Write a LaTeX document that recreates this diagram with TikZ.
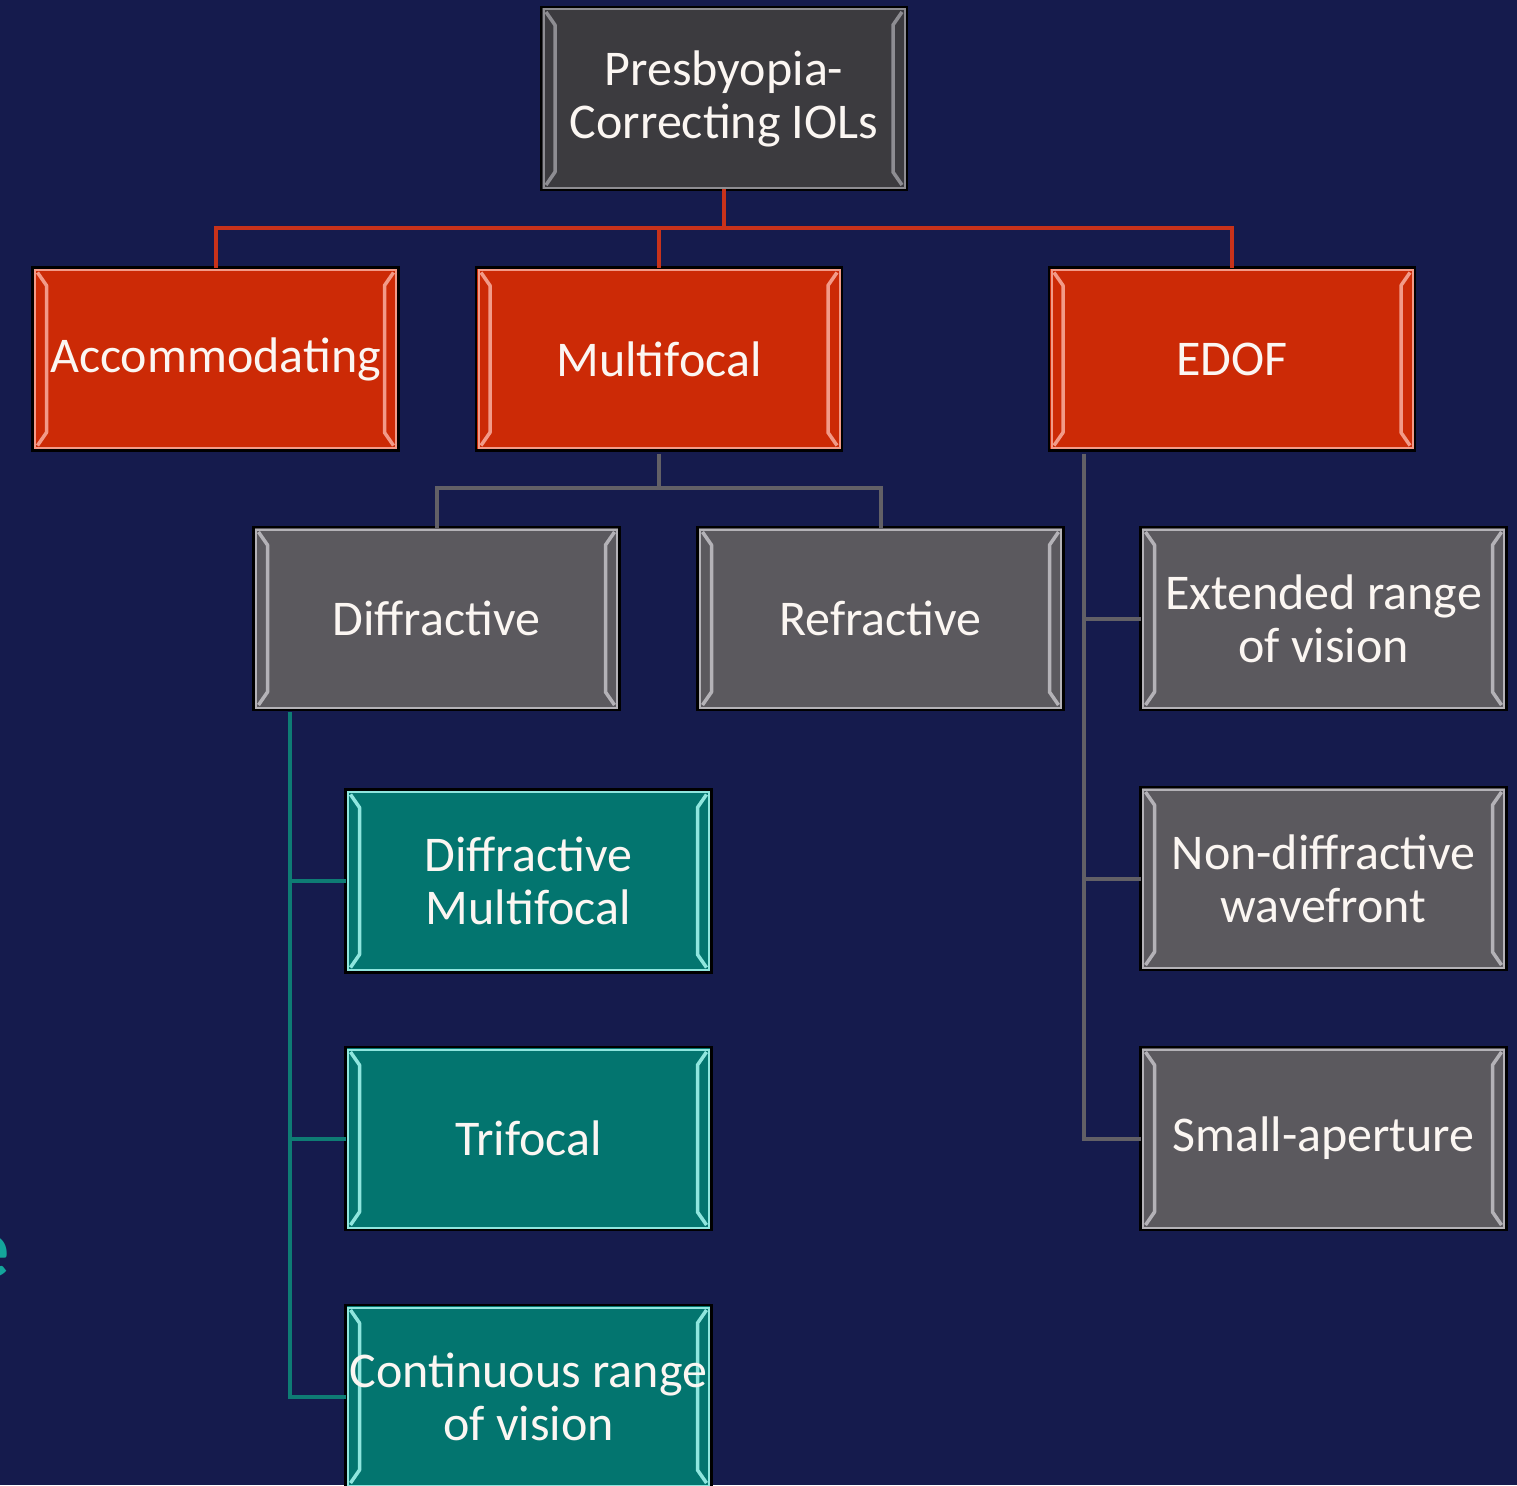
\documentclass[tikz,border=0pt]{standalone}
\usepackage{fontspec}
\setmainfont{Carlito}
\usetikzlibrary{calc}
\definecolor{bg}{HTML}{151B4D}
\definecolor{redf}{HTML}{CC2A06}
\definecolor{redb}{HTML}{F29A88}
\definecolor{redl}{HTML}{C8321A}
\definecolor{darkf}{HTML}{3C3B3F}
\definecolor{darkb}{HTML}{8E8D92}
\definecolor{grayf}{HTML}{5B595E}
\definecolor{grayb}{HTML}{B4B2B7}
\definecolor{grayl}{HTML}{626066}
\definecolor{tealf}{HTML}{03756F}
\definecolor{tealb}{HTML}{8FE6DE}
\definecolor{teall}{HTML}{0E7C74}
\definecolor{tealtxt}{HTML}{14A59B}
\definecolor{txt}{HTML}{FBF6F2}
\begin{document}
\begin{tikzpicture}[x=1pt,y=-1pt,
  box/.style 2 args={draw=black, line width=2.5pt, fill=#1,
    minimum width=366pt, minimum height=183pt, inner sep=0pt,
    align=center, text=txt, font=\fontsize{50}{53}\selectfont,
    path picture={
      \coordinate (pnw) at (path picture bounding box.north west);
      \coordinate (pse) at (path picture bounding box.south east);
      \coordinate (pne) at (path picture bounding box.north east);
      \coordinate (psw) at (path picture bounding box.south west);
      \draw[#2, line width=2pt] ($(pnw)+(2.5,2.5)$) rectangle ($(pse)+(-2.5,-2.5)$);
      \draw[#2, line width=3.5pt, line join=round]
        ($(pnw)+(5,5)$) -- ($(pnw)+(14,18)$) -- ($(psw)+(14,-18)$) -- ($(psw)+(5,-5)$);
      \draw[#2, line width=3.5pt, line join=round]
        ($(pne)+(-5,5)$) -- ($(pne)+(-14,18)$) -- ($(pse)+(-14,-18)$) -- ($(pse)+(-5,-5)$);
    }},
  redbox/.style={box={redf}{redb}},
  darkbox/.style={box={darkf}{darkb}},
  graybox/.style={box={grayf}{grayb}},
  tealbox/.style={box={tealf}{tealb}},
  conn/.style={line width=4pt, line cap=rect}
]
\clip (0,0) rectangle (1517,1485);
\fill[bg] (0,0) rectangle (1517,1485);

% fragment of text at left edge (cut off in the reference)
\node[anchor=base east, inner sep=0pt, text=tealtxt,
      font=\fontsize{86}{86}\selectfont\bfseries] (frag) at (10,1277) {e};

% nodes
\node[darkbox] (top) at (724,98.5) {Presbyopia-\\Correcting IOLs};
\node[redbox] (acc) at (215.5,359) {Accommodating};
\node[redbox] (mf) at (659,359) {Multifocal};
\node[redbox] (edof) at (1232,359) {EDOF};
\node[graybox] (dif) at (436.5,618.5) {Diffractive};
\node[graybox] (ref) at (880.5,618.5) {Refractive};
\node[graybox] (ext) at (1323.5,618.5) {Extended range\\of vision};
\node[graybox] (nond) at (1323.5,878.5) {Non-diffractive\\wavefront};
\node[graybox] (small) at (1323.5,1138.5) {Small-aperture};
\node[tealbox] (dm) at (528.5,881) {Diffractive\\Multifocal};
\node[tealbox] (tri) at (528.5,1138.5) {Trifocal};
\node[tealbox] (cont) at (528.5,1396.5) {Continuous range\\of vision};

% connectors
\coordinate (rj) at ($(top.south)+(0,37)$);
\draw[conn, draw=redl] (top.south) -- (rj);
\draw[conn, draw=redl] (rj) -| (acc.north);
\draw[conn, draw=redl] (rj) -| (mf.north);
\draw[conn, draw=redl] (rj) -| (edof.north);

\coordinate (gj) at ($(mf.south)+(0,36)$);
\draw[conn, draw=grayl] ($(mf.south)+(0,4)$) -- (gj);
\draw[conn, draw=grayl] (gj) -| (dif.north);
\draw[conn, draw=grayl] (gj) -| (ref.north);

\coordinate (ej) at ($(edof.south west)+(36,4)$);
\draw[conn, draw=grayl] (ej) |- (ext.west);
\draw[conn, draw=grayl] (ej) |- (nond.west);
\draw[conn, draw=grayl] (ej) |- (small.west);

\coordinate (tj) at ($(dif.south west)+(38,3)$);
\draw[conn, draw=teall] (tj) |- (dm.west);
\draw[conn, draw=teall] (tj) |- (tri.west);
\draw[conn, draw=teall] (tj) |- (cont.west);
\end{tikzpicture}
\end{document}
